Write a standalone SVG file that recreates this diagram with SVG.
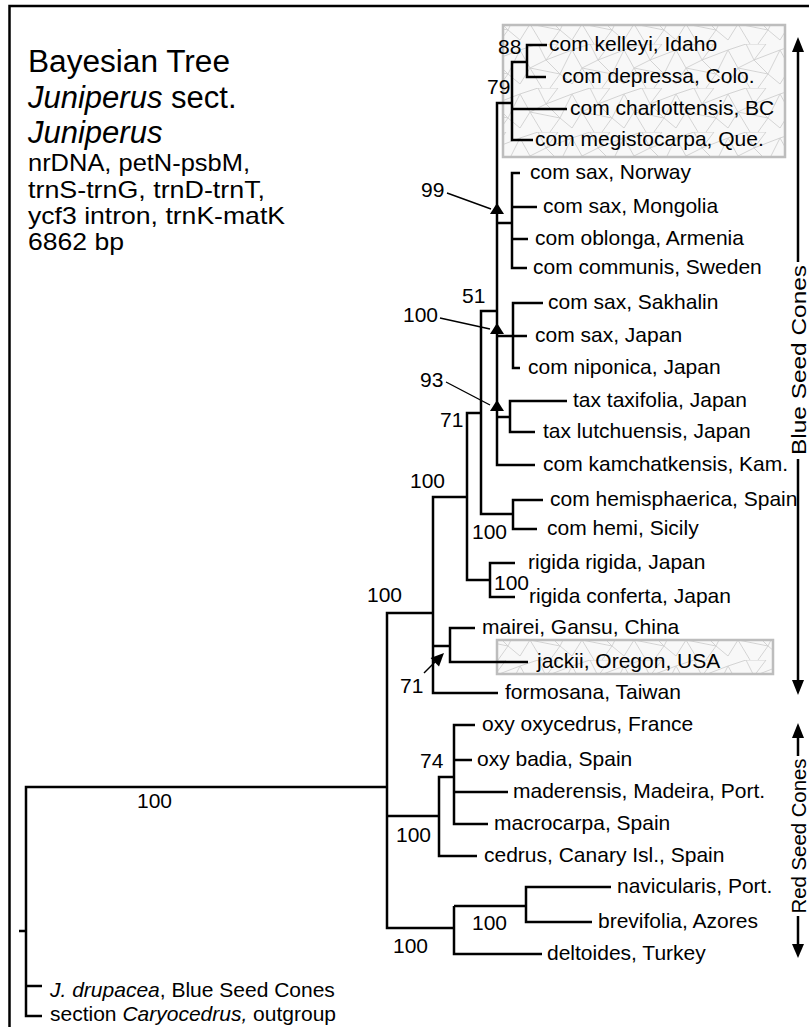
<svg xmlns="http://www.w3.org/2000/svg" width="809" height="1027" viewBox="0 0 809 1027">
<style>
text{font-family:"Liberation Sans",Arial,sans-serif;fill:#000}
.lb{font-size:21px}
.bs{font-size:21px}
.t1{font-size:31px}
.t2{font-size:24px}
.rot{font-size:21px}
.br{fill:none;stroke:#000;stroke-width:2.5}
.ld{fill:none;stroke:#000;stroke-width:1.4}
.box{fill:url(#mesh);stroke:#bdbdbd;stroke-width:2.5}
.ah{fill:#000}
</style>
<defs>
<pattern id="mesh" width="52" height="44" patternUnits="userSpaceOnUse">
<rect width="52" height="44" fill="#f8f8f8"/>
<path d="M0,6 L18,0 M18,0 L26,16 L52,6 M0,6 L10,24 L26,16 M26,16 L40,30 L52,6 M10,24 L0,40 M10,24 L22,44 M10,24 L40,30 M40,30 L52,40 M40,30 L30,44 M18,0 L38,0 M38,0 L26,16" fill="none" stroke="#cfcfcf" stroke-width="0.9"/>
</pattern>
<path id="tri" d="M0,0 L-7,11 L7,11 Z"/>
</defs>
<rect width="809" height="1027" fill="#fff"/>
<path d="M9.5,1027 V6 H809" fill="none" stroke="#000" stroke-width="2.5"/>

<g id="title">
<text class="t1" x="28" y="72" textLength="202" lengthAdjust="spacingAndGlyphs">Bayesian Tree</text>
<text class="t1" x="28" y="108"><tspan font-style="italic">Juniperus</tspan> sect.</text>
<text class="t1" x="28" y="143" font-style="italic">Juniperus</text>
<text class="t2" x="28" y="171" textLength="222" lengthAdjust="spacingAndGlyphs">nrDNA, petN-psbM,</text>
<text class="t2" x="28" y="198" textLength="237" lengthAdjust="spacingAndGlyphs">trnS-trnG, trnD-trnT,</text>
<text class="t2" x="28" y="224" textLength="257" lengthAdjust="spacingAndGlyphs">ycf3 intron, trnK-matK</text>
<text class="t2" x="28" y="250" textLength="96" lengthAdjust="spacingAndGlyphs">6862 bp</text>
</g>

<g id="highlights">
<rect class="box" x="503" y="25" width="282" height="132"/>
<rect class="box" x="497" y="640" width="276" height="34"/>
</g>

<g id="connectors">
<path class="br" d="M547,45 H527 V77 H546 M527,62 H512 V140 H533 M512,109 H567 M512,103 H497 V465 H535
M497,223 H512 M520,173 H512 V268 H527 M512,207 H537 M512,239 H528
M543,303 H513 V368 H520 M497,336 H527
M497,417 H510 M567,401 H510 V432 H535
M497,311 H481 V514 H513 M543,500 H513 V529 H537
M481,413 H467 V580 H490 M515,563 H490 V597 H515
M467,497 H433 V693 H498 M433,646 H450 M475,628 H450 V662 H528
M433,613 H387 V928 H454 M387,816 H439 M454,777 H439 V856 H477 M475,725 H454 V824 H488 M454,760 H472 M454,792 H508
M454,906 V954 H542 M454,906 H526 M611,887 H526 V922 H592
M387,787 H26 V1016 H42 M26,986 H42 M19,931 H26"/>
<path class="ld" d="M447,193 L491,209 M440,318 L490,329 M446,382 L490,405"/>
<path class="ld" stroke="#666" d="M424,673 L437,660"/>
<use href="#tri" x="497" y="203"/>
<use href="#tri" x="497" y="323"/>
<use href="#tri" x="497" y="400"/>
<polygon class="ah" points="444,653 430.6,658 439,666.4"/>
</g>

<g id="groups">
<path class="br" d="M798,52 V262 M798,459 V682 M798,738 V756 M798,916 V944" stroke-width="1.8"/>
<polygon class="ah" points="798,37 792,52 804,52"/>
<polygon class="ah" points="798,695 792,680 804,680"/>
<polygon class="ah" points="798,723 792,738 804,738"/>
<polygon class="ah" points="798,958 792,944 804,944"/>
<text class="rot" transform="translate(806,360) rotate(-90)" text-anchor="middle" textLength="190" lengthAdjust="spacingAndGlyphs">Blue Seed Cones</text>
<text class="rot" transform="translate(806,836) rotate(-90)" text-anchor="middle" textLength="155" lengthAdjust="spacingAndGlyphs">Red Seed Cones</text>
</g>

<g id="support">
<text class="bs" x="498" y="54">88</text>
<text class="bs" x="487" y="94">79</text>
<text class="bs" x="421" y="197">99</text>
<text class="bs" x="462" y="303">51</text>
<text class="bs" x="403" y="322">100</text>
<text class="bs" x="420" y="387">93</text>
<text class="bs" x="440" y="427">71</text>
<text class="bs" x="410" y="488">100</text>
<text class="bs" x="472" y="539">100</text>
<text class="bs" x="494" y="590">100</text>
<text class="bs" x="367" y="602">100</text>
<text class="bs" x="400" y="693">71</text>
<text class="bs" x="420" y="768">74</text>
<text class="bs" x="396" y="842">100</text>
<text class="bs" x="472" y="930">100</text>
<text class="bs" x="393" y="953">100</text>
<text class="bs" x="137" y="808">100</text>
</g>

<g id="taxa">
<g id="n-kelleyi"><text class="lb" x="549" y="51">com kelleyi, Idaho</text></g>
<g id="n-depressa"><text class="lb" x="562" y="83">com depressa, Colo.</text></g>
<g id="n-charlottensis"><text class="lb" x="570" y="115">com charlottensis, BC</text></g>
<g id="n-megistocarpa"><text class="lb" x="535" y="146">com megistocarpa, Que.</text></g>
<g id="n-sax-norway"><text class="lb" x="530" y="179">com sax, Norway</text></g>
<g id="n-sax-mongolia"><text class="lb" x="543" y="213">com sax, Mongolia</text></g>
<g id="n-oblonga"><text class="lb" x="535" y="245">com oblonga, Armenia</text></g>
<g id="n-communis"><text class="lb" x="533" y="274">com communis, Sweden</text></g>
<g id="n-sax-sakhalin"><text class="lb" x="548" y="309">com sax, Sakhalin</text></g>
<g id="n-sax-japan"><text class="lb" x="535" y="342">com sax, Japan</text></g>
<g id="n-niponica"><text class="lb" x="528" y="374">com niponica, Japan</text></g>
<g id="n-taxifolia"><text class="lb" x="573" y="407">tax taxifolia, Japan</text></g>
<g id="n-lutchuensis"><text class="lb" x="543" y="438">tax lutchuensis, Japan</text></g>
<g id="n-kamchatkensis"><text class="lb" x="543" y="471">com kamchatkensis, Kam.</text></g>
<g id="n-hemisphaerica"><text class="lb" x="550" y="506">com hemisphaerica, Spain</text></g>
<g id="n-hemi"><text class="lb" x="547" y="535">com hemi, Sicily</text></g>
<g id="n-rigida"><text class="lb" x="528" y="569">rigida rigida, Japan</text></g>
<g id="n-conferta"><text class="lb" x="529" y="603">rigida conferta, Japan</text></g>
<g id="n-mairei"><text class="lb" x="482" y="634">mairei, Gansu, China</text></g>
<g id="n-jackii"><text class="lb" x="537" y="668">jackii, Oregon, USA</text></g>
<g id="n-formosana"><text class="lb" x="505" y="699">formosana, Taiwan</text></g>
<g id="n-oxycedrus"><text class="lb" x="482" y="731">oxy oxycedrus, France</text></g>
<g id="n-badia"><text class="lb" x="477" y="766">oxy badia, Spain</text></g>
<g id="n-maderensis"><text class="lb" x="513" y="798">maderensis, Madeira, Port.</text></g>
<g id="n-macrocarpa"><text class="lb" x="494" y="830">macrocarpa, Spain</text></g>
<g id="n-cedrus"><text class="lb" x="484" y="862">cedrus, Canary Isl., Spain</text></g>
<g id="n-navicularis"><text class="lb" x="617" y="893">navicularis, Port.</text></g>
<g id="n-brevifolia"><text class="lb" x="598" y="928">brevifolia, Azores</text></g>
<g id="n-deltoides"><text class="lb" x="547" y="960">deltoides, Turkey</text></g>
<g id="n-drupacea"><text class="lb" x="50" y="997"><tspan font-style="italic">J. drupacea</tspan>, Blue Seed Cones</text></g>
<g id="n-outgroup"><text class="lb" x="50" y="1021">section <tspan font-style="italic">Caryocedrus,</tspan> outgroup</text></g>
</g>
</svg>
